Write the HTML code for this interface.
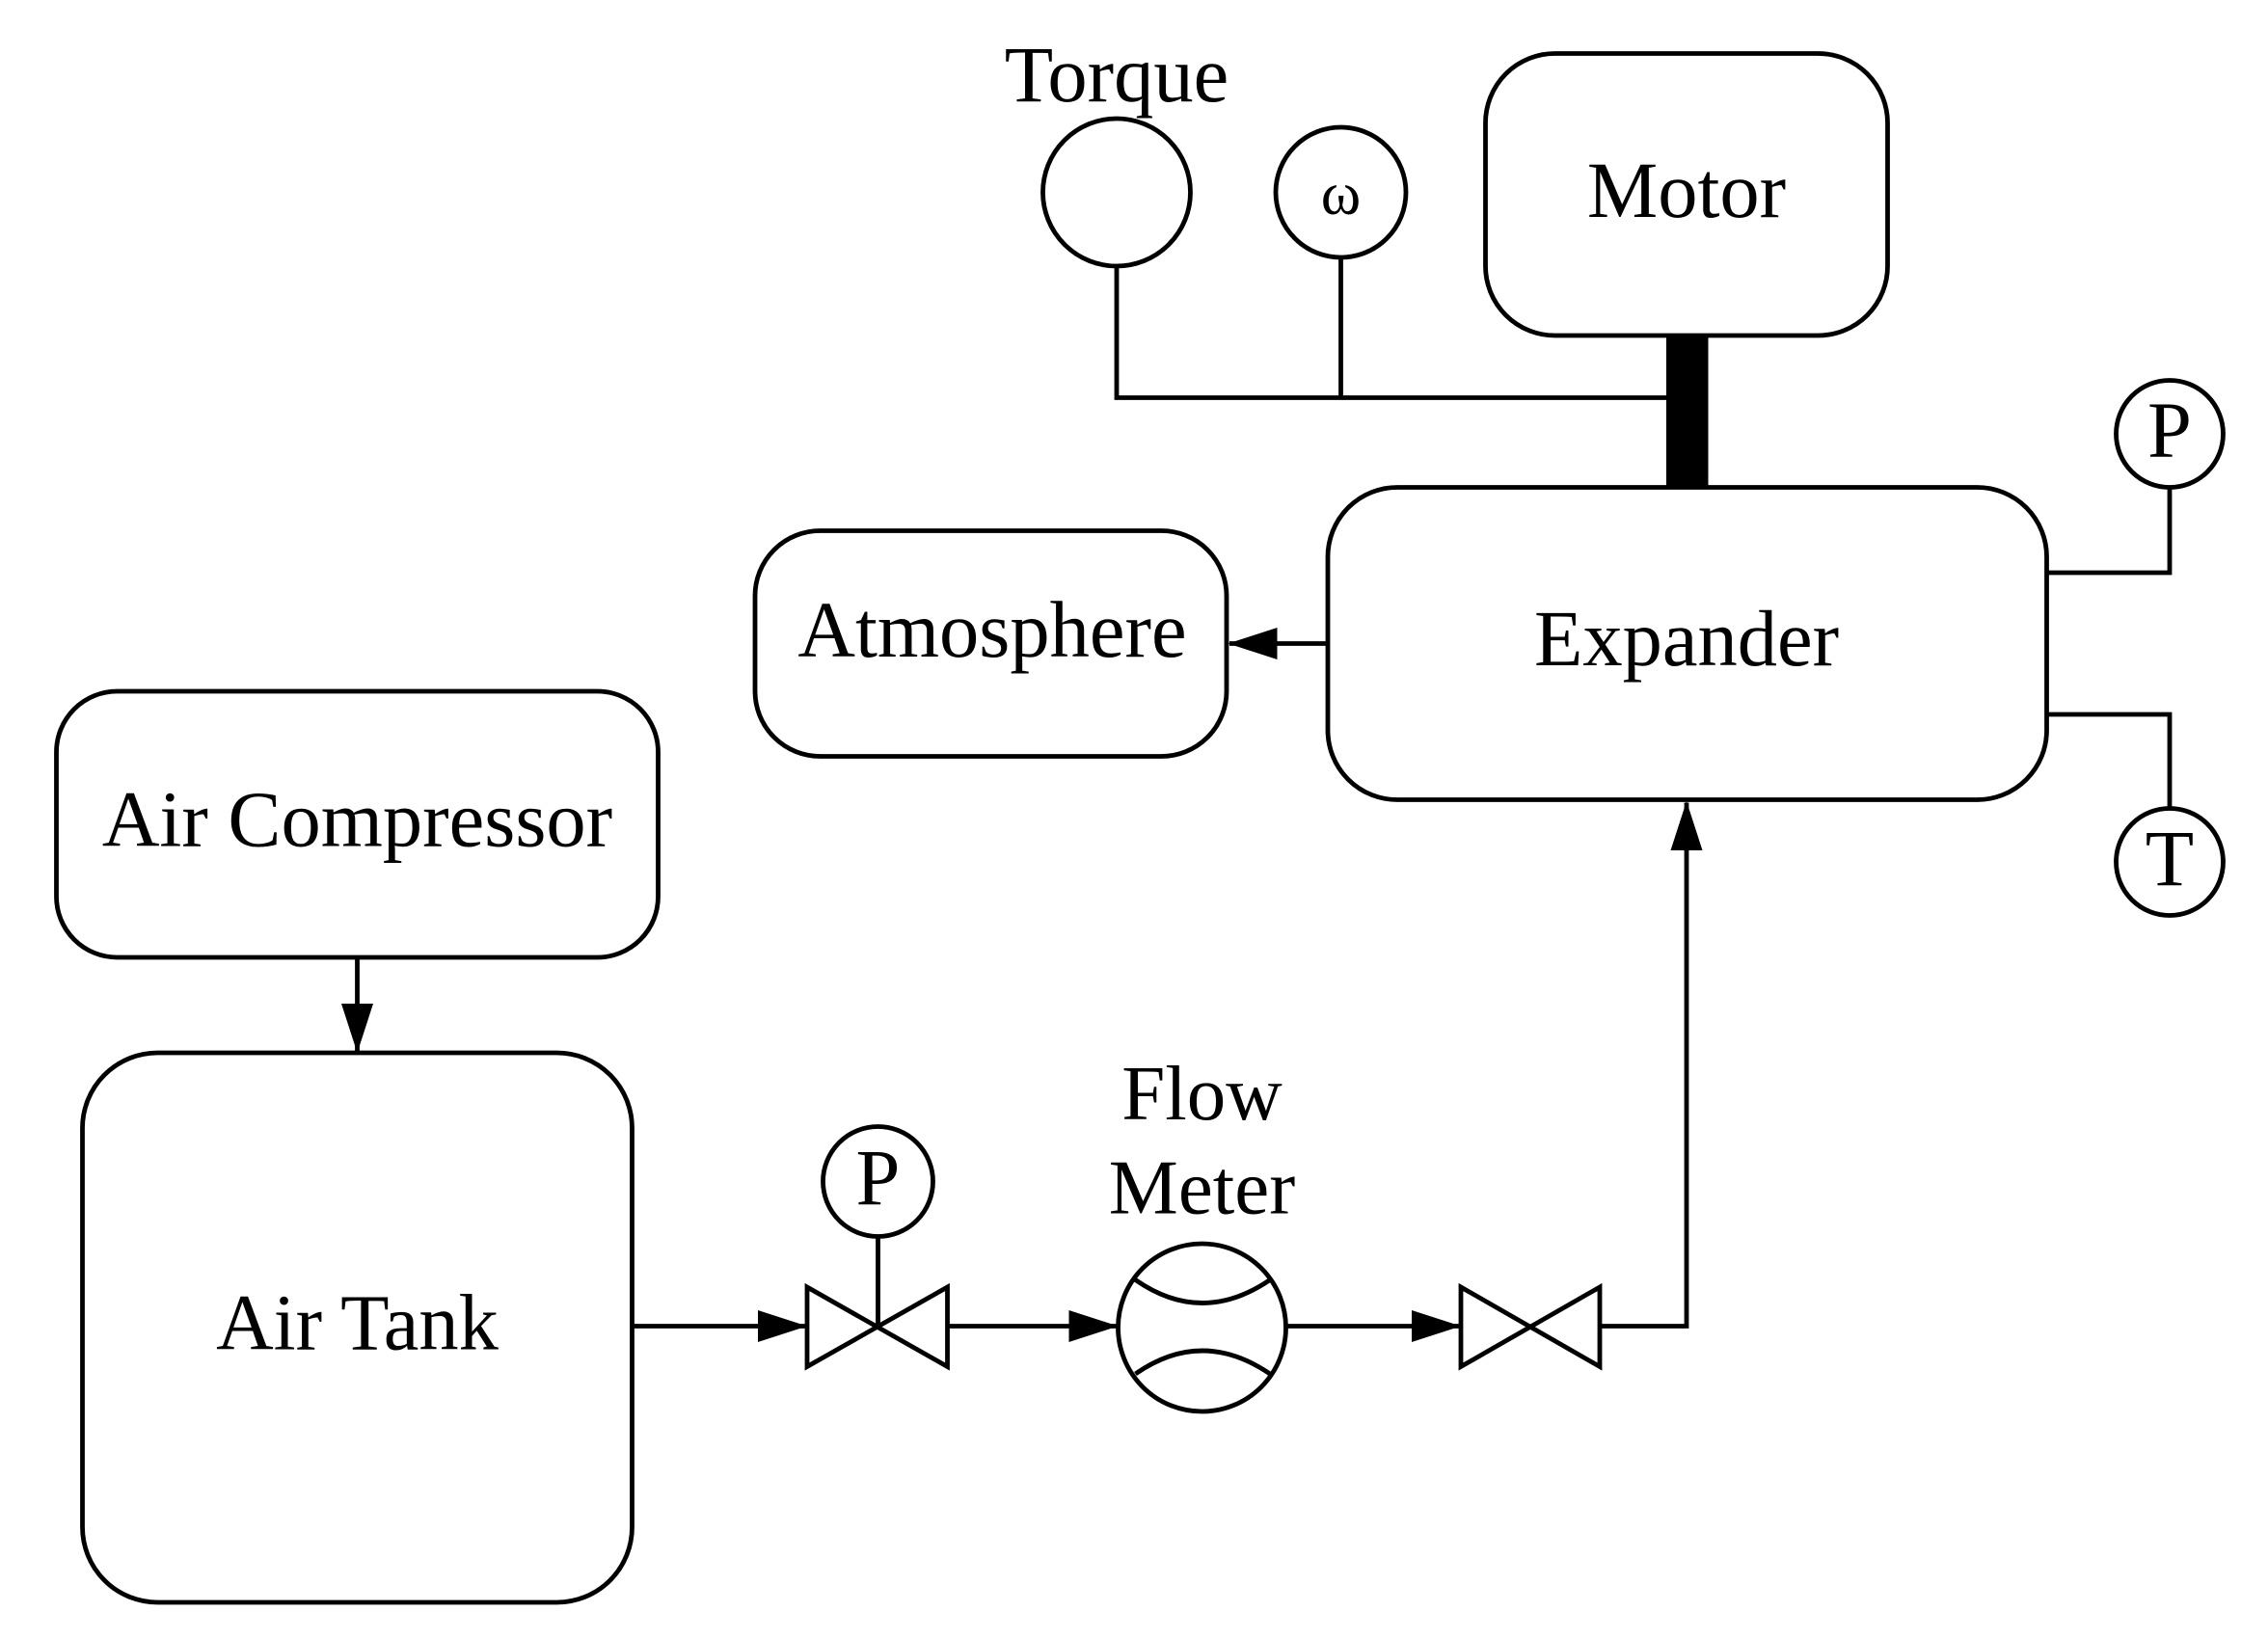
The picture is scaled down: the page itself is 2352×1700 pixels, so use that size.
<!DOCTYPE html>
<html><head><meta charset="utf-8"><style>
html,body{margin:0;padding:0;background:#fff;}
svg{display:block;}
text{font-family:"Liberation Serif",serif;fill:#000;}
</style></head><body>
<svg width="2352" height="1700" viewBox="0 0 1568 1133.33" xmlns="http://www.w3.org/2000/svg">
<defs>
<marker id="b" markerWidth="34" markerHeight="22" refX="33" refY="11" orient="auto" markerUnits="userSpaceOnUse" viewBox="0 0 34 22">
<path d="M0,0 L34,11 L0,22 z" fill="#000"/>
</marker>
</defs>
<g fill="none" stroke="#000" stroke-width="3.2">
<circle cx="772" cy="133" r="51"/>
<circle cx="927" cy="133" r="45"/>
<polyline points="772,184 772,275 1152,275"/>
<line x1="927" y1="178" x2="927" y2="275"/>
<rect x="1027" y="37" width="278" height="195" rx="48"/>
<rect x="918" y="337" width="497" height="216" rx="48"/>
<rect x="522" y="367" width="326" height="156" rx="45"/>
<line x1="918" y1="445" x2="850" y2="445" marker-end="url(#b)"/>
<circle cx="1500" cy="300" r="37"/>
<polyline points="1415,396 1500,396 1500,337"/>
<circle cx="1500" cy="596" r="37"/>
<polyline points="1415,494 1500,494 1500,559"/>
<rect x="39" y="478" width="416" height="184" rx="42"/>
<line x1="247" y1="662" x2="247" y2="727" marker-end="url(#b)"/>
<rect x="57" y="728" width="380" height="380" rx="52"/>
<line x1="437" y1="917" x2="557" y2="917" marker-end="url(#b)"/>
<path d="M558,890 L655,945 L655,890 L558,945 Z"/>
<circle cx="607" cy="817" r="38"/>
<line x1="607" y1="855" x2="607" y2="917"/>
<line x1="655" y1="917" x2="772" y2="917" marker-end="url(#b)"/>
<circle cx="831" cy="918" r="58"/>
<path d="M785,885 Q831,917 878,885"/>
<path d="M785,950 Q831,918 878,950"/>
<line x1="889" y1="917" x2="1009" y2="917" marker-end="url(#b)"/>
<path d="M1010,890 L1106,945 L1106,890 L1010,945 Z"/>
<polyline points="1106,917 1166,917 1166,555" marker-end="url(#b)"/>
</g>
<rect x="1152" y="232" width="29" height="105" fill="#000"/>
<g font-size="55" text-anchor="middle">
<text x="772" y="70">Torque</text>
<text x="927" y="148" font-size="42">ω</text>
<text x="1166" y="150">Motor</text>
<text x="1166" y="460">Expander</text>
<text x="686" y="454">Atmosphere</text>
<text x="1500" y="316">P</text>
<text x="1500" y="612">T</text>
<text x="247" y="585">Air Compressor</text>
<text x="247" y="933">Air Tank</text>
<text x="607" y="833">P</text>
<text x="831" y="774" font-size="54">Flow</text>
<text x="831" y="839" font-size="54">Meter</text>
</g>
</svg>
</body></html>
